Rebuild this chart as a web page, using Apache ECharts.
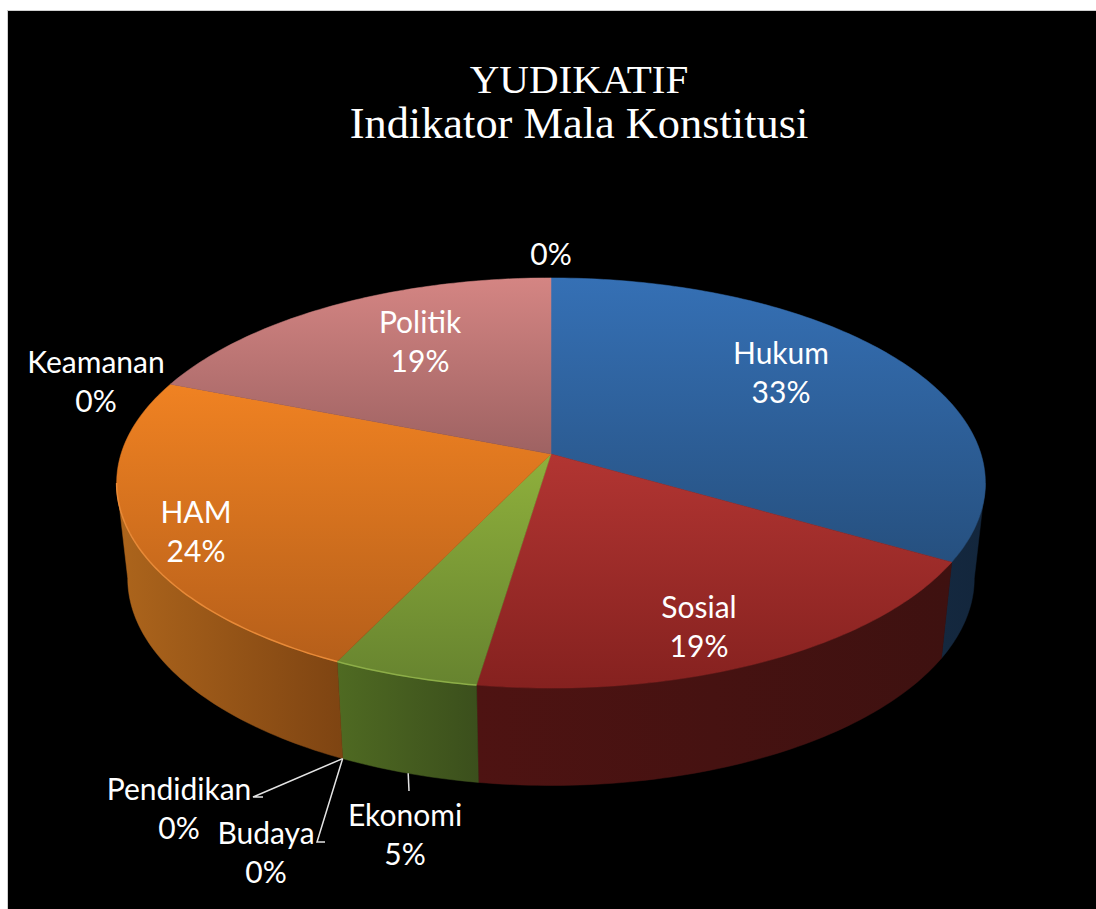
<!DOCTYPE html>
<html>
<head>
<meta charset="utf-8">
<title>YUDIKATIF</title>
<style>
  html, body { margin: 0; padding: 0; background: #fff; }
  #chart { width: 1096px; height: 909px; }
  #chart text { font-variant-ligatures: none; }
</style>
<script src="https://cdn.jsdelivr.net/npm/echarts@6/dist/echarts.min.js"></script>
</head>
<body>
<div id="chart"></div>
<script>
const categories = ['Hukum', 'Sosial', 'Ekonomi', 'Pendidikan', 'Budaya', 'HAM', 'Keamanan', 'Politik', ''];
// counts behind the printed percentages (7/21 = 33%, 4/21 = 19%, ...)
const counts = [7, 4, 1, 0, 0, 5, 0, 4, 0];

// top: gradient colours and the screen y span it runs over; wall: colours left to right
const sliceStyles = {
    Hukum: { top: ['#3570B5', '#26507F'], span: [278, 562], wall: ['#14283F', '#13263C'], rim: null },
    Sosial: { top: ['#B23532', '#85211F'], span: [454, 688], wall: ['#4E1312', '#3E1110'], rim: null },
    Ekonomi: { top: ['#8FB03C', '#66832F'], span: [454, 688], wall: ['#4F6A22', '#3B4F1C'], rim: '#8DAE48' },
    HAM: { top: ['#F08222', '#B65F1A'], span: [384, 660], wall: ['#AD651C', '#7E4412'], rim: '#E88A38' },
    Politik: { top: ['#D48583', '#9E6262'], span: [278, 454], wall: ['#000000', '#000000'], rim: null }
};

// label centres and leader elbows, in page pixels
const labelSpots = {
    Hukum: { x: 781, y: 371 },
    Sosial: { x: 699, y: 625 },
    Ekonomi: { x: 405, y: 833, leader: [[409, 791]] },
    Pendidikan: { x: 179, y: 807, leader: [[253, 797], [263, 797]] },
    Budaya: { x: 266, y: 851, leader: [[317, 842], [325, 842]] },
    HAM: { x: 196, y: 530 },
    Keamanan: { x: 96, y: 380 },
    Politik: { x: 420, y: 340 },
    '': { x: 551, y: 253 }
};

// perspective disc: apex of the slices and the two rims
const topRim = { cx: 551, cy: 454, a: 430, b: 201, k: 0.1415 };
const baseRim = { cx: 551, cy: 549, a: 419, b: 203, k: 0.1415 };
const wallFrom = 90 + Math.asin(topRim.k) * 180 / Math.PI;
const wallTo = 360 - wallFrom;

const total = counts.reduce((s, v) => s + v, 0);
const startAngles = [];
counts.reduce((s, v, i) => {
    startAngles[i] = s / total * 360;
    return s + v;
}, 0);

// angle is clockwise from 12 o'clock
function rimPoint(rim, angle) {
    const rad = angle * Math.PI / 180;
    const u = Math.sin(rad);
    const v = -Math.cos(rad);
    const d = 1 - rim.k * v;
    return [rim.cx + rim.a * u / d, rim.cy + rim.b * v / d];
}

function rimArc(rim, from, to) {
    const pts = [];
    const steps = Math.max(1, Math.ceil(to - from));
    for (let i = 0; i <= steps; i++) {
        pts.push(rimPoint(rim, from + (to - from) * i / steps));
    }
    return pts;
}

function linear(horizontal, from, to, colors) {
    return {
        type: 'linear', global: true,
        x: horizontal ? from : 0, y: horizontal ? 0 : from,
        x2: horizontal ? to : 0, y2: horizontal ? 0 : to,
        colorStops: [{ offset: 0, color: colors[0] }, { offset: 1, color: colors[1] }]
    };
}

function renderSlice(params, api) {
    const i = params.dataIndex;
    const name = categories[i];
    const value = api.value(0);
    const from = startAngles[i];
    const to = from + value / total * 360;
    const children = [];
    const look = sliceStyles[name];

    if (value > 0) {
        const a0 = Math.max(from, wallFrom);
        const a1 = Math.min(to, wallTo);
        if (a1 > a0) {
            const wallPts = rimArc(topRim, a0, a1).concat(rimArc(baseRim, a0, a1).reverse());
            const xs = wallPts.map(p => p[0]);
            const wallFill = linear(true, Math.min(...xs), Math.max(...xs), look.wall);
            children.push({
                type: 'polygon', z2: 1,
                shape: { points: wallPts },
                style: { fill: wallFill, stroke: wallFill, lineWidth: 0.5 }
            });
        }
        const topFill = linear(false, look.span[0], look.span[1], look.top);
        children.push({
            type: 'polygon', z2: 2,
            shape: { points: [[topRim.cx, topRim.cy]].concat(rimArc(topRim, from, to)) },
            style: { fill: topFill, stroke: topFill, lineWidth: 0.5 }
        });
        if (look.rim && a1 > a0) {
            children.push({
                type: 'polyline', z2: 3,
                shape: { points: rimArc(topRim, a0, a1) },
                style: { fill: null, stroke: look.rim, lineWidth: 1.5 }
            });
        }
    }

    const spot = labelSpots[name];
    if (spot.leader) {
        const anchor = rimPoint(baseRim, (from + to) / 2);
        children.push({
            type: 'polyline', z2: 4,
            shape: { points: [anchor].concat(spot.leader) },
            style: { fill: null, stroke: '#E4E4E4', lineWidth: 1.5 }
        });
    }
    children.push({
        type: 'text', z2: 5,
        x: spot.x, y: spot.y,
        style: {
            text: (name ? name + '\n' : '') + Math.round(value / total * 100) + '%',
            fill: '#fff',
            font: '30px Lato, "Noto Sans", sans-serif',
            lineHeight: 39,
            align: 'center',
            verticalAlign: 'middle'
        }
    });
    return { type: 'group', children: children };
}

const chart = echarts.init(document.getElementById('chart'), null, { renderer: 'svg' });
chart.setOption({
    animation: false,
    backgroundColor: '#fff',
    title: {
        text: 'YUDIKATIF',
        subtext: 'Indikator Mala Konstitusi',
        left: 579,
        textAlign: 'center',
        top: 56,
        itemGap: -2,
        padding: 0,
        textStyle: { color: '#fff', fontFamily: '"Liberation Serif", serif', fontWeight: 'normal', fontSize: 41, lineHeight: 46 },
        subtextStyle: { color: '#fff', fontFamily: '"Liberation Serif", serif', fontSize: 44.4, lineHeight: 46 }
    },
    graphic: [{
        type: 'rect', silent: true, z: 0,
        shape: { x: 7.5, y: 10.5, width: 1200, height: 1000 },
        style: { fill: '#000', stroke: '#CFCFCF', lineWidth: 1 }
    }],
    series: [{
        type: 'custom',
        coordinateSystem: 'none',
        silent: true,
        clip: false,
        data: counts,
        renderItem: renderSlice
    }]
});
</script>
</body>
</html>
